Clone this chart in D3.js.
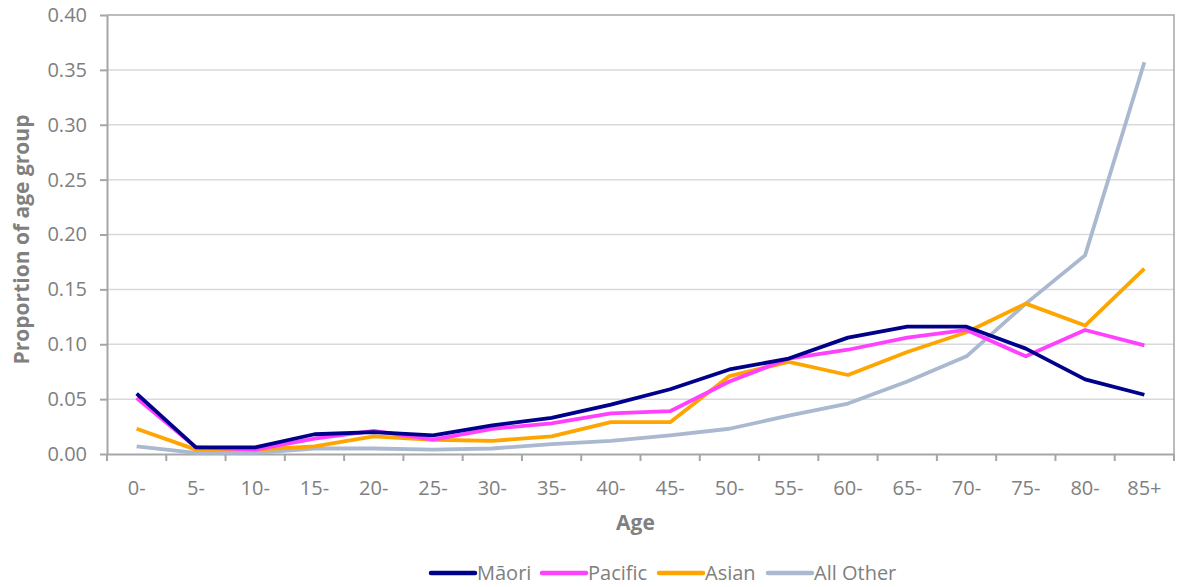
<!DOCTYPE html>
<html>
<head>
<meta charset="utf-8">
<script src="https://cdn.jsdelivr.net/npm/d3@7"></script>
<style>
    body { margin: 0; background: #fff; }
    text { font-family: "Open Sans", Lato, sans-serif; fill: #808080; }
</style>
</head>
<body>
<div id="main"></div>
<script>
const ages = ["0-", "5-", "10-", "15-", "20-", "25-", "30-", "35-", "40-", "45-",
    "50-", "55-", "60-", "65-", "70-", "75-", "80-", "85+"];
const maori = [0.055, 0.006, 0.006, 0.018, 0.020, 0.017, 0.026, 0.033, 0.045, 0.059,
    0.077, 0.087, 0.106, 0.116, 0.116, 0.096, 0.068, 0.054];
const pacific = [0.051, 0.006, 0.004, 0.014, 0.021, 0.013, 0.023, 0.028, 0.037, 0.039,
    0.066, 0.087, 0.095, 0.106, 0.113, 0.089, 0.113, 0.099];
const asian = [0.023, 0.004, 0.004, 0.007, 0.016, 0.013, 0.012, 0.016, 0.029, 0.029,
    0.071, 0.084, 0.072, 0.093, 0.111, 0.137, 0.117, 0.169];
const allOther = [0.007, 0.001, 0.001, 0.005, 0.005, 0.004, 0.005, 0.009, 0.012, 0.017,
    0.023, 0.035, 0.046, 0.066, 0.089, 0.137, 0.181, 0.357];
const yTicks = [0, 0.05, 0.10, 0.15, 0.20, 0.25, 0.30, 0.35, 0.40];

const series = [
    { name: "Māori", values: maori, color: "#00008b" },
    { name: "Pacific", values: pacific, color: "#ff40ff" },
    { name: "Asian", values: asian, color: "#ffa500" },
    { name: "All Other", values: allOther, color: "#aab8d0" }
];

const width = 1178, height = 587;
const margin = { left: 107, right: 4, top: 15, bottom: 133 };

let svg = d3.select("#main").append("svg")
    .attr("width", width).attr("height", height);

let x = d3.scaleBand().domain(ages)
    .range([margin.left, width - margin.right]);
let y = d3.scaleLinear().domain([0, 0.4])
    .range([height - margin.bottom, margin.top]);

// gridlines
svg.append("g").selectAll("line").data(yTicks.slice(1, -1)).enter().append("line")
    .attr("x1", margin.left).attr("x2", width - margin.right)
    .attr("y1", (d) => y(d)).attr("y2", (d) => y(d))
    .attr("stroke", "#d9d9d9").attr("stroke-width", 1.5);

// frame top and right
svg.append("path")
    .attr("d", `M${margin.left},${y(0.4)}H${width - margin.right}V${y(0)}`)
    .attr("fill", "none").attr("stroke", "#a6a6a6").attr("stroke-width", 1.5);

// y axis
let yAxis = svg.append("g")
    .attr("transform", `translate(${margin.left},0)`)
    .call(d3.axisLeft(y).tickValues(yTicks).tickFormat(d3.format(".2f"))
        .tickSizeInner(7).tickSizeOuter(0).tickPadding(13));
yAxis.selectAll("text").style("font-size", "20px");

// x axis, ticks at band edges
let xAxis = svg.append("g")
    .attr("transform", `translate(0,${y(0)})`)
    .call(d3.axisBottom(x).tickSize(0).tickPadding(27));
xAxis.selectAll("text").style("font-size", "20px");
xAxis.selectAll(".edge").data(ages.concat(["end"])).enter().append("line")
    .classed("edge", true)
    .attr("x1", (d, i) => margin.left + i * x.step())
    .attr("x2", (d, i) => margin.left + i * x.step())
    .attr("y1", 0).attr("y2", 7);
svg.selectAll(".domain, .tick line, .edge")
    .attr("stroke", "#a6a6a6").attr("stroke-width", 2);
svg.selectAll(".tick text").attr("fill", "#808080").attr("font-family", null);

// axis titles
svg.append("text")
    .attr("x", margin.left + (width - margin.left - margin.right) / 2 - 5)
    .attr("y", 530)
    .attr("text-anchor", "middle")
    .style("font-size", "21px").style("font-weight", "bold")
    .text("Age");
svg.append("text")
    .attr("transform", `translate(22,${(y(0) + y(0.4)) / 2 + 5}) rotate(-90)`)
    .attr("text-anchor", "middle")
    .attr("dy", "0.35em")
    .style("font-size", "21px").style("font-weight", "bold")
    .text("Proportion of age group");

// lines
let line = d3.line()
    .x((d, i) => x(ages[i]) + x.bandwidth() / 2)
    .y((d) => y(d));

svg.append("g").selectAll("path").data(series.slice().reverse()).enter().append("path")
    .attr("d", (d) => line(d.values))
    .attr("fill", "none")
    .attr("stroke", (d) => d.color)
    .attr("stroke-width", 3.8)
    .attr("stroke-linejoin", "round");

// legend
const legendX = [431, 542, 659, 768];
let legend = svg.append("g").selectAll("g").data(series).enter().append("g")
    .attr("transform", (d, i) => `translate(${legendX[i]},573)`);
legend.append("line")
    .attr("x1", 0).attr("x2", 44)
    .attr("stroke", (d) => d.color).attr("stroke-width", 4.5)
    .attr("stroke-linecap", "round");
legend.append("text")
    .attr("x", 46).attr("dy", "0.35em")
    .style("font-size", "20px")
    .text((d) => d.name);
</script>
</body>
</html>
